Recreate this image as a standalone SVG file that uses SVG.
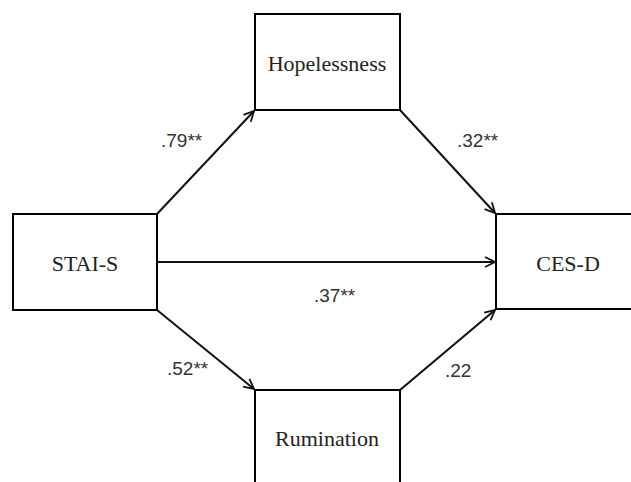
<svg xmlns="http://www.w3.org/2000/svg" width="631" height="482" viewBox="0 0 631 482">
<style>
.box{fill:#fff;stroke:#000;stroke-width:2}
.lbl{font-family:"Liberation Serif","Times New Roman",serif;font-size:22px;fill:#222;text-anchor:middle}
.coef{font-family:"Liberation Sans",Arial,sans-serif;font-size:19px;fill:#333}
.conn line{stroke:#111;stroke-width:2;marker-end:url(#arr)}
</style>
<defs>
<marker id="arr" viewBox="0 0 12 12" refX="11" refY="6" markerWidth="12" markerHeight="12" markerUnits="userSpaceOnUse" orient="auto">
<path d="M1,1 L11,6 L1,11" fill="none" stroke="#111" stroke-width="1.8"/>
</marker>
</defs>
<rect width="631" height="482" fill="#fff"/>
<g id="connectors" class="conn">
<line x1="157" y1="214" x2="254" y2="111"/>
<line x1="400" y1="110" x2="495" y2="213"/>
<line x1="157" y1="262" x2="495" y2="262"/>
<line x1="157" y1="310" x2="254" y2="389"/>
<line x1="400" y1="390" x2="495" y2="310"/>
</g>
<g id="node-hopelessness">
<rect class="box" x="255" y="14" width="145" height="96"/>
<text class="lbl" x="327" y="71">Hopelessness</text>
</g>
<g id="node-stai">
<rect class="box" x="13" y="214" width="144" height="96"/>
<text class="lbl" x="85" y="271">STAI-S</text>
</g>
<g id="node-cesd">
<rect class="box" x="496" y="214" width="145" height="95"/>
<text class="lbl" x="568" y="271">CES-D</text>
</g>
<g id="node-rumination">
<rect class="box" x="255" y="390" width="145" height="100"/>
<text class="lbl" x="327" y="446">Rumination</text>
</g>
<g id="labels">
<text class="coef" x="161" y="147">.79**</text>
<text class="coef" x="457" y="147">.32**</text>
<text class="coef" x="314" y="302">.37**</text>
<text class="coef" x="167" y="375">.52**</text>
<text class="coef" x="445" y="377">.22</text>
</g>
</svg>
